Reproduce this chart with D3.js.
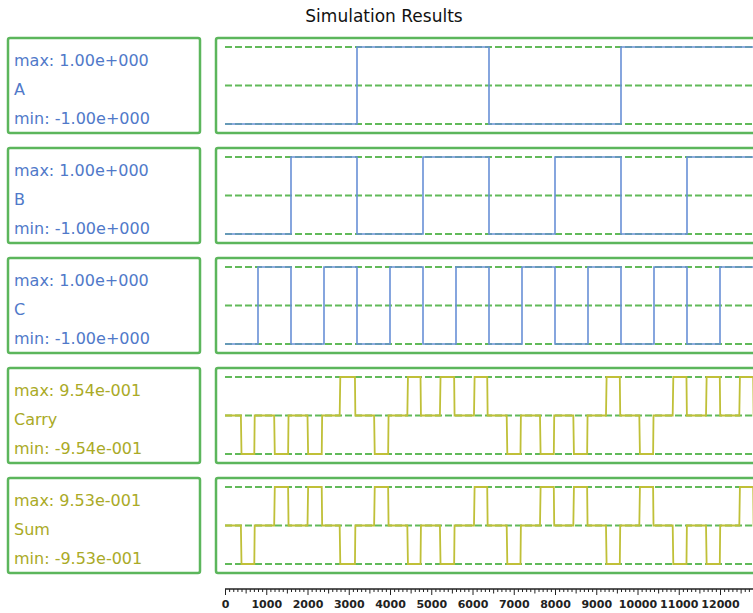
<!DOCTYPE html>
<html>
<head>
<meta charset="utf-8">
<script src="https://cdn.jsdelivr.net/npm/d3@7"></script>
<style>
  html, body { margin: 0; padding: 0; background: #fff; }
  svg { display: block; }
</style>
</head>
<body>
<script>
// ---------------- data ----------------
const title = "Simulation Results";
const signalNames = ["A", "B", "C", "Carry", "Sum"];
const signalMax = [1.00, 1.00, 1.00, 0.954, 0.953];
const signalMin = [-1.00, -1.00, -1.00, -0.954, -0.953];
const maxLabels = ["max: 1.00e+000", "max: 1.00e+000", "max: 1.00e+000", "max: 9.54e-001", "max: 9.53e-001"];
const minLabels = ["min: -1.00e+000", "min: -1.00e+000", "min: -1.00e+000", "min: -9.54e-001", "min: -9.53e-001"];

// square inputs: start level -1, toggle at these times
const aToggles = [3200, 6400, 9600];
const bToggles = [1600, 3200, 4800, 6400, 8000, 9600, 11200];
const cToggles = [800, 1600, 2400, 3200, 4000, 4800, 5600, 6400, 7200, 8000, 8800, 9600, 10400, 11200, 12000];

// output pulses (start, end) and sign per pulse
const pulseStart = [385, 1192, 2000, 2780, 3615, 4420, 5210, 6036, 6829, 7636, 8444, 9236, 10044, 10853, 11661, 12468];
const pulseEnd   = [715, 1535, 2350, 3155, 3960, 4745, 5560, 6362, 7168, 7976, 8784, 9576, 10383, 11192, 12000, 12810];
const carrySigns = [-1, -1, -1, 1, -1, 1, 1, 1, -1, -1, -1, 1, -1, 1, 1, 1];
const sumSigns   = [-1, 1, 1, -1, 1, -1, -1, 1, -1, 1, 1, -1, 1, -1, -1, 1];

const tEnd = 13000;
const xTicksMajor = [0, 1000, 2000, 3000, 4000, 5000, 6000, 7000, 8000, 9000, 10000, 11000, 12000];

// ---------------- build series ----------------
function squareSeries(toggles, lo, hi) {
  const pts = [];
  let v = lo;
  pts.push([0, v]);
  toggles.forEach(t => { pts.push([t, v]); v = (v === lo) ? hi : lo; pts.push([t, v]); });
  pts.push([tEnd, v]);
  return pts;
}
function pulseSeries(signs, amp) {
  const pts = [[0, 0]];
  signs.forEach((s, i) => {
    pts.push([pulseStart[i], 0]);
    pts.push([pulseStart[i] + 15, s * amp]);
    pts.push([pulseEnd[i] - 5, s * amp]);
    pts.push([pulseEnd[i] + 5, 0]);
  });
  pts.push([tEnd, 0]);
  return pts;
}
const series = [
  squareSeries(aToggles, -1, 1),
  squareSeries(bToggles, -1, 1),
  squareSeries(cToggles, -1, 1),
  pulseSeries(carrySigns, 0.954),
  pulseSeries(sumSigns, 0.953)
];

// ---------------- layout ----------------
const W = 753, H = 613;
const panelTop0 = 38, panelStep = 110, panelH = 95;
const labelX = 8, labelW = 192;
const plotX = 216, plotRight = 770;
const green = "#5cb65c", dashGreen = "#62ba5a";
const blueText = "#5079c9", blueLine = "#6890d6";
const oliveText = "#aaaa26", oliveLine = "#c0c038";
const textColors = [blueText, blueText, blueText, oliveText, oliveText];
const lineColors = [blueLine, blueLine, blueLine, oliveLine, oliveLine];

const svg = d3.select("body").append("svg").attr("width", W).attr("height", H);

svg.append("text").attr("x", 384).attr("y", 22).attr("text-anchor", "middle")
  .attr("font-family", "DejaVu Sans, sans-serif").attr("font-size", 17).attr("fill", "#111")
  .text(title);

const x = d3.scaleLinear().domain([0, 12800]).range([225, 753]);

signalNames.forEach((name, i) => {
  const top = panelTop0 + i * panelStep;
  const g = svg.append("g");
  // label box
  g.append("rect").attr("x", labelX).attr("y", top).attr("width", labelW).attr("height", panelH)
    .attr("rx", 2).attr("fill", "none").attr("stroke", green).attr("stroke-width", 2.5);
  const tf = t => g.append("text").attr("x", 14).attr("font-family", "DejaVu Sans, sans-serif")
    .attr("font-size", 16).attr("fill", textColors[i]).text(t);
  tf(maxLabels[i]).attr("y", top + 28);
  tf(name).attr("y", top + 57);
  tf(minLabels[i]).attr("y", top + 86);

  // plot box
  g.append("rect").attr("x", plotX).attr("y", top).attr("width", plotRight - plotX).attr("height", panelH)
    .attr("rx", 2).attr("fill", "none").attr("stroke", green).attr("stroke-width", 2.5);

  const y = d3.scaleLinear().domain([signalMin[i], signalMax[i]]).range([top + 86, top + 9]);
  const levels = [signalMax[i], 0, signalMin[i]];
  g.selectAll("line.dash").data(levels).enter().append("line")
    .attr("x1", 225).attr("x2", plotRight).attr("y1", d => y(d)).attr("y2", d => y(d))
    .attr("stroke", dashGreen).attr("stroke-width", 2).attr("stroke-dasharray", "7,3");

  const line = d3.line().x(d => x(d[0])).y(d => y(d[1]));
  g.append("path").datum(series[i]).attr("d", line).attr("fill", "none")
    .attr("stroke", lineColors[i]).attr("stroke-width", i < 3 ? 1.6 : 1.8);
});

// x axis
const minorTicks = d3.range(0, 12801, 100);
const axis = d3.axisBottom(x).tickValues(minorTicks).tickSize(3)
  .tickFormat(d => xTicksMajor.includes(d) ? d : "");
const ag = svg.append("g").attr("transform", "translate(0,589)").call(axis);
ag.select(".domain").attr("stroke", "#222").attr("stroke-width", 1.5).attr("d", "M225,0H753");
ag.selectAll(".tick line").attr("stroke", "#222")
  .attr("y2", d => d % 1000 === 0 ? 6 : (d % 500 === 0 ? 4.5 : 3));
ag.selectAll(".tick text").attr("font-family", "DejaVu Sans, sans-serif").attr("font-size", 11)
  .attr("fill", "#222").attr("y", 11).attr("font-weight", "bold");
</script>
</body>
</html>
